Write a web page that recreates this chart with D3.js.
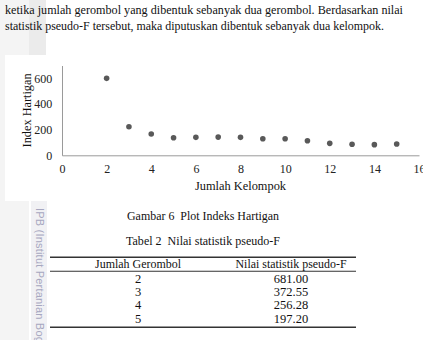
<!DOCTYPE html>
<html lang="id">
<head>
<meta charset="utf-8">
<title>Plot Indeks Hartigan</title>
<script src="https://cdn.jsdelivr.net/npm/d3@7"></script>
<style>
body { margin: 0; background: #fff; }
svg { display: block; font-family: "Liberation Serif", "DejaVu Serif", serif; }
svg text { font-family: "Liberation Serif", "DejaVu Serif", serif; fill: #111; }
.axis path { stroke: #9a9a9a; }
.axis text { font-size: 12px; fill: #222; }
svg text.wm { font-family: "Liberation Sans", "DejaVu Sans", sans-serif; fill: #a7a7c0; }
</style>
</head>
<body>
<div id="page"></div>
<script>
// paragraph lines above the figure
var paraLines = [
  "ketika jumlah gerombol yang dibentuk sebanyak dua gerombol. Berdasarkan nilai",
  "statistik pseudo-F tersebut, maka diputuskan dibentuk sebanyak dua kelompok."
];

// scatter data
var kelompok = [2, 3, 4, 5, 6, 7, 8, 9, 10, 11, 12, 13, 14, 15];
var hartigan = [600, 222, 166, 137, 140, 142, 140, 129, 129, 114, 93, 86, 83, 88];
var xTicks = [0, 2, 4, 6, 8, 10, 12, 14, 16];
var yTicks = [0, 200, 400, 600];

// table
var tableHead = ["Jumlah Gerombol", "Nilai statistik pseudo-F"];
var gerombol = ["2", "3", "4", "5"];
var pseudoF = ["681.00", "372.55", "256.28", "197.20"];

var W = 423, H = 340;
var svg = d3.select("#page").append("svg").attr("width", W).attr("height", H);

// scanned page margin strips
svg.append("rect").attr("x", 0).attr("y", 0).attr("width", 29).attr("height", H).attr("fill", "#f4f4f4");
svg.append("rect").attr("x", 29).attr("y", 0).attr("width", 17).attr("height", 56).attr("fill", "#ebebeb");
svg.append("rect").attr("x", 31).attr("y", 201).attr("width", 16).attr("height", H - 201).attr("fill", "#f1f1f4");

// paragraph text (scan is a bit narrow, so widths are pinned)
var paraWidth = [398, 379];
svg.selectAll(".para").data(paraLines).enter().append("text")
  .attr("class", "para")
  .attr("x", 5)
  .attr("y", function(d, i) { return 13.5 + i * 16; })
  .attr("textLength", function(d, i) { return paraWidth[i]; })
  .attr("lengthAdjust", "spacingAndGlyphs")
  .style("font-size", "13.3px")
  .text(function(d) { return d; });

// chart box
svg.append("rect").attr("x", 5).attr("y", 55).attr("width", W - 5).attr("height", 146).attr("fill", "#fff");

var x = d3.scaleLinear().domain([0, 16]).range([62, 419]);
var y = d3.scaleLinear().domain([0, 700]).range([155.3, 65.5]);

svg.append("g")
  .attr("class", "x axis")
  .attr("transform", "translate(0," + y(0) + ")")
  .call(d3.axisBottom(x).tickValues(xTicks).tickSize(0).tickPadding(9.5))
  .call(function(g) { g.selectAll(".tick line").remove(); });

svg.append("g")
  .attr("class", "y axis")
  .attr("transform", "translate(" + x(0) + ",0)")
  .call(d3.axisLeft(y).tickValues(yTicks).tickSize(0).tickPadding(9.7))
  .call(function(g) { g.selectAll(".tick line").remove(); });

svg.selectAll(".dot").data(kelompok).enter().append("circle")
  .attr("class", "dot")
  .attr("cx", function(d) { return x(d); })
  .attr("cy", function(d, i) { return y(hartigan[i]); })
  .attr("r", 2.8)
  .attr("fill", "#595959");

svg.append("text")
  .attr("x", (x(0) + x(16)) / 2)
  .attr("y", 189.5)
  .attr("text-anchor", "middle")
  .attr("textLength", 91)
  .attr("lengthAdjust", "spacingAndGlyphs")
  .style("font-size", "13px")
  .text("Jumlah Kelompok");

svg.append("text")
  .attr("transform", "translate(30.5," + (y(0) + y(700)) / 2 + ") rotate(-90)")
  .attr("text-anchor", "middle")
  .attr("textLength", 74)
  .attr("lengthAdjust", "spacingAndGlyphs")
  .style("font-size", "13px")
  .text("Index Hartigan");

// captions
svg.append("text").attr("x", 203).attr("y", 220).attr("text-anchor", "middle")
  .attr("textLength", 152).attr("lengthAdjust", "spacingAndGlyphs")
  .style("font-size", "13px").text("Gambar 6\u00a0\u00a0Plot Indeks Hartigan");
svg.append("text").attr("x", 203).attr("y", 244.5).attr("text-anchor", "middle")
  .attr("textLength", 154).attr("lengthAdjust", "spacingAndGlyphs")
  .style("font-size", "13px").text("Tabel 2\u00a0\u00a0Nilai statistik pseudo-F");

// table
var colX = [138, 291];
var headWidth = [86, 111];
svg.append("line").attr("x1", 50).attr("x2", 356).attr("y1", 257.3).attr("y2", 257.3)
  .attr("stroke", "#333").attr("stroke-width", 1.6);
svg.append("line").attr("x1", 50).attr("x2", 356).attr("y1", 271.3).attr("y2", 271.3)
  .attr("stroke", "#333").attr("stroke-width", 1.1);
svg.append("line").attr("x1", 50).attr("x2", 356).attr("y1", 327.3).attr("y2", 327.3)
  .attr("stroke", "#333").attr("stroke-width", 1.6);

svg.selectAll(".th").data(tableHead).enter().append("text")
  .attr("class", "th")
  .attr("x", function(d, i) { return colX[i]; })
  .attr("y", 268.3)
  .attr("text-anchor", "middle")
  .attr("textLength", function(d, i) { return headWidth[i]; })
  .attr("lengthAdjust", "spacingAndGlyphs")
  .style("font-size", "12.5px")
  .text(function(d) { return d; });

var rows = svg.selectAll(".row").data(gerombol).enter().append("g")
  .attr("class", "row")
  .attr("transform", function(d, i) { return "translate(0," + (282.7 + i * 13.3) + ")"; });
rows.append("text").attr("x", colX[0]).attr("text-anchor", "middle")
  .style("font-size", "12.5px").text(function(d) { return d; });
rows.append("text").attr("x", colX[1]).attr("text-anchor", "middle")
  .style("font-size", "12.5px").text(function(d, i) { return pseudoF[i]; });

// watermark down the margin
svg.append("text")
  .attr("class", "wm")
  .attr("transform", "translate(36,208) rotate(90)")
  .style("font-size", "11px")
  .style("letter-spacing", "0.2px")
  .text("IPB (Institut Pertanian Bogor)");
</script>
</body>
</html>
